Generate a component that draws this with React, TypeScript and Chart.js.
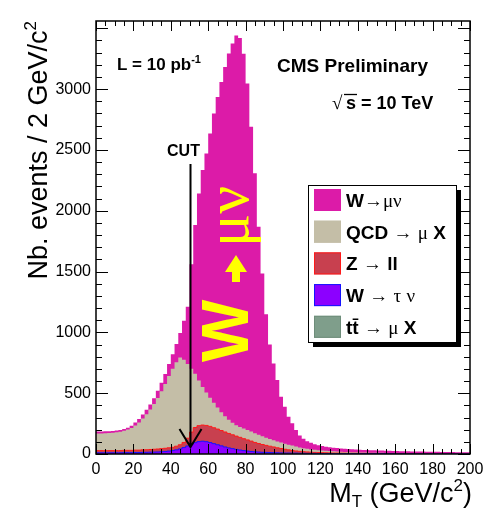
import React, { useEffect, useRef } from "react";
import { Chart, registerables } from "chart.js";

Chart.register(...registerables);

// ---------- data ----------
const BIN_WIDTH = 2; // GeV/c^2
const X_MIN = 0;
const X_MAX = 200;
const Y_MAX = 3560;
const X_TICKS = [0, 20, 40, 60, 80, 100, 120, 140, 160, 180, 200];
const Y_TICKS = [0, 500, 1000, 1500, 2000, 2500, 3000];
const CUT_VALUE = 50;

// events per 2 GeV bin, bins start at 0,2,4,...,198
const W_MUNU = [
  17, 16, 16, 16, 16, 15, 14, 14, 15, 18,
  24, 28, 33, 37, 41, 47, 58, 70, 82, 98,
  120, 150, 201, 320, 470, 860, 1222, 1537, 1784, 1965,
  2173, 2377, 2554, 2715, 2872, 3010, 3118, 3203, 3197, 3080,
  2848, 2505, 2138, 1710, 1339, 1016, 777, 632, 505, 377,
  304, 230, 183, 136, 98, 77, 62, 54, 46, 41,
  37, 34, 32, 30, 29, 27, 26, 25, 24, 23,
  22, 21, 20, 20, 19, 19, 18, 18, 17, 16,
  16, 15, 15, 15, 14, 14, 13, 14, 13, 13,
  12, 12, 12, 12, 11, 11, 10, 10, 10, 10,
];
const QCD = [
  140, 141, 143, 144, 146, 150, 155, 161, 171, 184,
  203, 228, 258, 291, 329, 372, 420, 472, 529, 590,
  645, 691, 718, 680, 610, 520, 442, 372, 312, 270,
  235, 206, 177, 151, 129, 113, 99, 90, 86, 84,
  82, 79, 76, 72, 68, 63, 59, 55, 52, 49,
  46, 43, 40, 36, 32, 29, 26, 23, 21, 19,
  17, 16, 15, 14, 12, 12, 10, 10, 9, 8,
  8, 7, 7, 6, 7, 6, 6, 5, 5, 6,
  5, 5, 5, 4, 4, 4, 4, 4, 4, 4,
  4, 4, 3, 3, 3, 3, 3, 3, 2, 2,
];
const Z_LL = [
  18, 18, 18, 18, 18, 18, 18, 19, 19, 19,
  20, 20, 21, 21, 22, 23, 24, 25, 26, 27,
  27, 30, 34, 42, 64, 100, 125, 131, 133, 134,
  133, 131, 129, 126, 123, 119, 114, 109, 104, 98,
  92, 85, 77, 70, 64, 58, 52, 47, 41, 36,
  31, 26, 22, 18, 16, 13, 12, 10, 8, 8,
  7, 6, 5, 5, 5, 4, 4, 3, 3, 4,
  3, 3, 3, 3, 2, 2, 2, 2, 2, 2,
  2, 2, 2, 2, 2, 2, 2, 1, 1, 1,
  1, 1, 1, 1, 1, 1, 1, 1, 1, 1,
];
const W_TAUNU = [
  10, 10, 10, 10, 10, 10, 10, 11, 11, 11,
  11, 11, 12, 13, 14, 15, 16, 18, 20, 23,
  26, 32, 40, 51, 64, 78, 91, 100, 103, 99,
  91, 82, 73, 64, 55, 47, 41, 35, 30, 25,
  21, 18, 15, 13, 11, 10, 9, 8, 7, 6,
  6, 6, 5, 5, 4, 4, 3, 3, 3, 2,
  2, 2, 2, 1, 1, 1, 1, 1, 1, 0,
  1, 1, 1, 1, 1, 1, 1, 1, 1, 0,
  0, 0, 0, 0, 0, 0, 0, 0, 0, 0,
  0, 0, 0, 0, 0, 0, 0, 0, 0, 0,
];
const TTBAR = [
  0, 0, 0, 0, 0, 0, 0, 0, 0, 0,
  1, 1, 1, 1, 1, 1, 1, 1, 1, 1,
  2, 2, 2, 2, 2, 2, 2, 2, 2, 2,
  3, 3, 3, 3, 3, 3, 3, 3, 3, 3,
  3, 3, 3, 3, 3, 3, 3, 3, 3, 3,
  2, 2, 2, 2, 2, 2, 2, 2, 2, 2,
  2, 2, 2, 2, 2, 2, 2, 2, 2, 2,
  1, 1, 1, 1, 1, 1, 1, 1, 1, 1,
  1, 1, 1, 1, 1, 1, 1, 1, 1, 1,
  1, 1, 1, 1, 1, 1, 1, 1, 1, 1,
];

// stacking order: bottom -> top
const SERIES = [
  { name: "tt\u0304 \u2192 \u03bc X", data: TTBAR, fill: "#7f9e8b", line: "#6e8d7a", lw: 0 },
  { name: "W \u2192 \u03c4 \u03bd", data: W_TAUNU, fill: "#8c00ff", line: "#1414ff", lw: 1 },
  { name: "Z \u2192 ll", data: Z_LL, fill: "#c8404f", line: "#ff1a1a", lw: 1 },
  { name: "QCD \u2192 \u03bc X", data: QCD, fill: "#c4bea7", line: "#c4bea7", lw: 0 },
  { name: "W\u2192\u03bc\u03bd", data: W_MUNU, fill: "#dc1ba8", line: "#dc1ba8", lw: 0 },
];

const SANS = '"Liberation Sans", Arial, Helvetica, sans-serif';
const SERIF = '"Liberation Serif", "Times New Roman", serif';

type Part = { text: string; font: string; dy?: number };

function partsWidth(ctx: CanvasRenderingContext2D, parts: Part[]) {
  let w = 0;
  for (const p of parts) {
    ctx.font = p.font;
    w += ctx.measureText(p.text).width;
  }
  return w;
}

function drawParts(ctx: CanvasRenderingContext2D, parts: Part[], x: number, y: number) {
  let cx = x;
  for (const p of parts) {
    ctx.font = p.font;
    ctx.fillText(p.text, cx, y + (p.dy || 0));
    cx += ctx.measureText(p.text).width;
  }
  return cx;
}

// split a label into runs: greek letters / arrows in serif, the rest bold sans
function labelParts(label: string, size: number): Part[] {
  const parts: Part[] = [];
  const isSym = (c: string) => /[\u2192\u03bc\u03bd\u03c4]/.test(c);
  let cur = "";
  let curSym: boolean | null = null;
  for (const c of Array.from(label)) {
    const s = isSym(c);
    if (curSym === null || s === curSym) {
      cur += c;
      curSym = s;
    } else {
      parts.push({ text: cur, font: curSym ? `${size}px ${SERIF}` : `bold ${size}px ${SANS}` });
      cur = c;
      curSym = s;
    }
  }
  if (cur) parts.push({ text: cur, font: curSym ? `${size}px ${SERIF}` : `bold ${size}px ${SANS}` });
  return parts;
}

const decorPlugin = {
  id: "decor",
  afterDatasetsDraw(chart: any) {
    const { ctx, chartArea: a, scales } = chart;
    const x = scales.x;
    const y = scales.y;
    ctx.save();
    ctx.strokeStyle = "#000";
    ctx.lineWidth = 1;
    ctx.beginPath();
    for (let v = X_MIN; v <= X_MAX; v += 5) {
      const px = Math.round(x.getPixelForValue(v)) + 0.5;
      const len = v % 20 === 0 ? 10 : 5;
      ctx.moveTo(px, a.bottom);
      ctx.lineTo(px, a.bottom - len);
      ctx.moveTo(px, a.top);
      ctx.lineTo(px, a.top + len);
    }
    for (let v = 0; v <= Y_MAX; v += 100) {
      const py = Math.round(y.getPixelForValue(v)) + 0.5;
      const len = v % 500 === 0 ? 12 : 6;
      ctx.moveTo(a.left, py);
      ctx.lineTo(a.left + len, py);
      ctx.moveTo(a.right, py);
      ctx.lineTo(a.right - len, py);
    }
    ctx.stroke();
    ctx.lineWidth = 1.5;
    ctx.strokeRect(a.left, a.top, a.right - a.left, a.bottom - a.top);
    ctx.restore();
  },
  afterDraw(chart: any) {
    const { ctx, chartArea: a, scales } = chart;
    const x = scales.x;
    ctx.save();
    ctx.fillStyle = "#000";
    ctx.textBaseline = "alphabetic";
    ctx.textAlign = "left";

    // ---- CUT line and arrow ----
    const cx = Math.round(x.getPixelForValue(CUT_VALUE)) + 0.5;
    ctx.strokeStyle = "#000";
    ctx.lineWidth = 2;
    ctx.beginPath();
    ctx.moveTo(cx, 164);
    ctx.lineTo(cx, 447);
    ctx.moveTo(cx - 11, 429);
    ctx.lineTo(cx, 447);
    ctx.lineTo(cx + 11, 429);
    ctx.stroke();
    ctx.font = `bold 16px ${SANS}`;
    ctx.textAlign = "center";
    ctx.fillText("CUT", cx - 7, 156);
    ctx.textAlign = "left";

    // ---- luminosity ----
    drawParts(ctx, [
      { text: "L = 10 pb", font: `bold 17px ${SANS}` },
      { text: "-1", font: `bold 11px ${SANS}`, dy: -7 },
    ], 117, 70);

    // ---- CMS Preliminary ----
    ctx.font = `bold 19px ${SANS}`;
    ctx.fillText("CMS Preliminary", 277, 72);

    // ---- sqrt(s) = 10 TeV ----
    ctx.font = `19px ${SERIF}`;
    ctx.fillText("\u221a", 332, 109);
    ctx.lineWidth = 1.3;
    ctx.beginPath();
    ctx.moveTo(344, 94.5);
    ctx.lineTo(357, 94.5);
    ctx.stroke();
    ctx.font = `bold 18px ${SANS}`;
    ctx.fillText("s = 10 TeV", 346, 109);

    // ---- axis titles ----
    const xt: Part[] = [
      { text: "M", font: `27px ${SANS}` },
      { text: "T", font: `17px ${SANS}`, dy: 5 },
      { text: " (GeV/c", font: `27px ${SANS}` },
      { text: "2", font: `17px ${SANS}`, dy: -11 },
      { text: ")", font: `27px ${SANS}` },
    ];
    drawParts(ctx, xt, a.right + 2 - partsWidth(ctx, xt), 502);

    const yt: Part[] = [
      { text: "Nb. events / 2 GeV/c", font: `27px ${SANS}` },
      { text: "2", font: `17px ${SANS}`, dy: -11 },
    ];
    ctx.save();
    ctx.translate(47, 21);
    ctx.rotate(-Math.PI / 2);
    drawParts(ctx, yt, -partsWidth(ctx, yt), 0);
    ctx.restore();

    // ---- legend ----
    const lx = 308, ly = 185, lw = 148, lh = 157;
    ctx.fillStyle = "#000";
    ctx.fillRect(lx + 5, ly + 5, lw, lh);
    ctx.fillStyle = "#fff";
    ctx.fillRect(lx, ly, lw, lh);
    ctx.lineWidth = 1;
    ctx.strokeStyle = "#000";
    ctx.strokeRect(lx + 0.5, ly + 0.5, lw, lh);
    const rows = SERIES.slice().reverse();
    rows.forEach((s, i) => {
      const cy = 200 + i * 31.7;
      ctx.fillStyle = s.fill;
      ctx.fillRect(314, cy - 11, 27, 22);
      ctx.strokeStyle = s.line;
      ctx.lineWidth = 1;
      ctx.strokeRect(314.5, cy - 10.5, 26, 21);
      ctx.fillStyle = "#000";
      drawParts(ctx, labelParts(s.name, 19), 346, cy + 7);
    });

    // ---- big yellow label ----
    ctx.save();
    ctx.translate(248, 362);
    ctx.rotate(-Math.PI / 2);
    ctx.fillStyle = "#ffff00";
    ctx.font = `bold 66px ${SANS}`;
    ctx.fillText("W", 0, 0);
    ctx.beginPath();
    ctx.rect(80, -16, 11, 8);
    ctx.moveTo(90, -23);
    ctx.lineTo(107, -12);
    ctx.lineTo(90, -1);
    ctx.closePath();
    ctx.fill();
    ctx.font = `62px ${SERIF}`;
    ctx.fillText("\u03bc\u03bd", 115, 0);
    ctx.restore();

    ctx.restore();
  },
};

function toPoints(values: number[]) {
  const pts = values.map((v, i) => ({ x: X_MIN + i * BIN_WIDTH, y: v }));
  pts.push({ x: X_MIN + values.length * BIN_WIDTH, y: values[values.length - 1] });
  return pts;
}

export default function App() {
  const ref = useRef<HTMLCanvasElement | null>(null);

  useEffect(() => {
    if (!ref.current) return;
    const chart = new Chart(ref.current, {
      type: "line",
      data: {
        datasets: SERIES.map((s) => ({
          label: s.name,
          data: toPoints(s.data),
          stepped: "before",
          fill: "origin",
          backgroundColor: s.fill,
          borderColor: s.line,
          borderWidth: s.lw,
          pointRadius: 0,
          tension: 0,
        })),
      },
      options: {
        responsive: false,
        devicePixelRatio: 1,
        animation: false,
        events: [],
        layout: { padding: { top: 21, right: 23, left: 0, bottom: 0 } },
        plugins: {
          legend: { display: false },
          tooltip: { enabled: false },
          title: { display: false },
        },
        scales: {
          x: {
            type: "linear",
            min: X_MIN,
            max: X_MAX,
            grid: { display: false, drawTicks: false },
            border: { display: false },
            afterBuildTicks: (axis: any) => {
              axis.ticks = X_TICKS.map((v) => ({ value: v }));
            },
            afterFit: (axis: any) => {
              axis.height = 58;
            },
            ticks: {
              autoSkip: false,
              maxRotation: 0,
              padding: 6,
              color: "#000",
              font: { family: SANS, size: 16 },
              callback: (v: any) => String(v),
            },
          },
          y: {
            type: "linear",
            stacked: true,
            min: 0,
            max: Y_MAX,
            grid: { display: false, drawTicks: false },
            border: { display: false },
            afterBuildTicks: (axis: any) => {
              axis.ticks = Y_TICKS.map((v) => ({ value: v }));
            },
            afterFit: (axis: any) => {
              axis.width = 96;
            },
            ticks: {
              autoSkip: false,
              padding: 5,
              color: "#000",
              font: { family: SANS, size: 16 },
              callback: (v: any) => String(v),
            },
          },
        },
      },
      plugins: [decorPlugin],
    } as any);
    return () => chart.destroy();
  }, []);

  return (
    <div style={{ position: "absolute", left: 0, top: 0, width: 493, height: 512, background: "#fff" }}>
      <canvas ref={ref} width={493} height={512} style={{ display: "block" }} />
    </div>
  );
}
